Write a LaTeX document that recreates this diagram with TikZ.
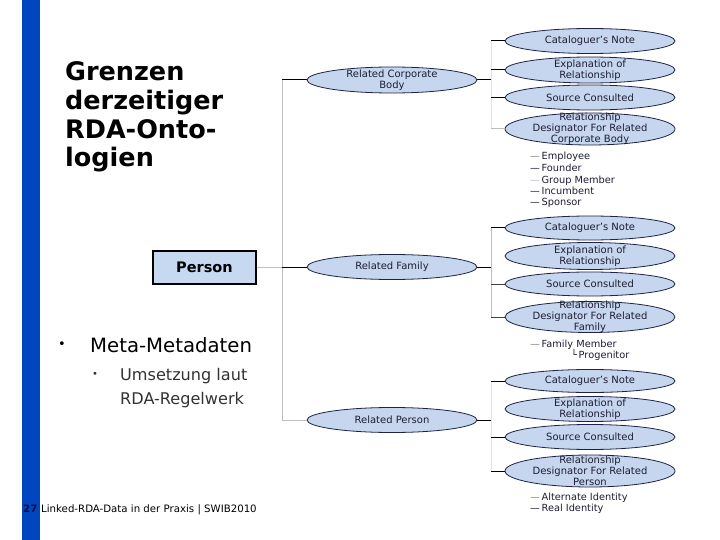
\documentclass[tikz,border=0pt]{standalone}
\usepackage{fontspec}
\setmainfont{DejaVu Sans}
\usetikzlibrary{shapes.geometric}
\definecolor{barblue}{RGB}{0,70,190}
\definecolor{ellfill}{RGB}{197,214,238}
\definecolor{elldraw}{RGB}{30,35,70}
\definecolor{boxfill}{RGB}{198,217,241}
\definecolor{linegray}{RGB}{190,190,190}
\definecolor{faintgray}{RGB}{228,228,228}
\definecolor{txtdark}{RGB}{30,30,50}
\definecolor{navy}{RGB}{10,10,70}
\definecolor{subgray}{RGB}{50,50,50}
\begin{document}
\begin{tikzpicture}[x=1pt,y=-1pt,
  ell/.style={ellipse, draw=elldraw, line width=0.8pt, fill=ellfill, minimum width=170pt, inner sep=0pt},
  lbl/.style={align=center, text=txtdark, inner sep=0pt, font=\fontsize{10}{11}\selectfont},
  itm/.style={anchor=west, text=txtdark, inner sep=0pt, text height=7pt, text depth=2pt, font=\fontsize{9.8}{11}\selectfont},
  conn/.style={line width=1pt, black},
  gconn/.style={line width=1pt, linegray},
  fconn/.style={line width=0.8pt, faintgray},
  ttl/.style={anchor=base west, inner sep=0pt, font=\fontsize{25.5}{29}\selectfont\bfseries}
]
\useasboundingbox (0,0) rectangle (720,540);
\fill[white] (0,0) rectangle (720,540);
% blue bar
\fill[barblue] (22,0) rectangle (40,540);

% title
\node[ttl] (t1) at (65,81) {Grenzen};
\node[ttl] (t2) at (65,110) {derzeitiger};
\node[ttl] (t3) at (65,138.5) {RDA-Onto-};
\node[ttl] (t4) at (65,167) {logien};

% Person box
\node[draw=black, line width=2.5pt, fill=boxfill, minimum width=103pt, minimum height=33pt, inner sep=0pt,
      font=\fontsize{14.5}{16}\selectfont\bfseries] (person) at (204.5,267.5) {Person};

% bullets
\node[inner sep=0pt, font=\fontsize{13}{14}\selectfont] (b1) at (62,345) {•};
\node[anchor=base west, inner sep=0pt, font=\fontsize{19.7}{22}\selectfont] (m1) at (90,352) {Meta-Metadaten};
\node[inner sep=0pt, text=subgray, font=\fontsize{10}{12}\selectfont] (b2) at (95,375) {•};
\node[anchor=base west, inner sep=0pt, text=subgray, font=\fontsize{16.1}{18}\selectfont] (u1) at (120,380) {Umsetzung laut};
\node[anchor=base west, inner sep=0pt, text=subgray, font=\fontsize{16.1}{18}\selectfont] (u2) at (120,404) {RDA-Regelwerk};

% footer
\node[anchor=base west, inner sep=0pt, text=navy, font=\fontsize{10.2}{12}\selectfont\bfseries] (pg) at (23,512) {27};
\node[anchor=base west, inner sep=0pt, text=black, font=\fontsize{10.2}{12}\selectfont] (ft) at (41,512) {Linked-RDA-Data in der Praxis | SWIB2010};

% main ellipses
\node[ell, minimum height=26pt] (rcb) at (392,80) {};
\node[lbl] (rcbt) at (rcb.center) {Related Corporate\\Body};
\node[ell, minimum height=25pt] (rf) at (392,267) {};
\node[lbl] (rft) at (rf.center) {Related Family};
\node[ell, minimum height=25pt] (rp) at (392,420) {};
\node[lbl] (rpt) at (rp.center) {Related Person};

% group 1
\node[ell, minimum height=25pt] (a1) at (590,41) {};
\node[lbl] (a1t) at (a1.center) {Cataloguer's Note};
\node[ell, minimum height=26pt] (a2) at (590,70) {};
\node[lbl] (a2t) at (a2.center) {Explanation of\\Relationship};
\node[ell, minimum height=25pt] (a3) at (590,97.5) {};
\node[lbl] (a3t) at (a3.center) {Source Consulted};
\node[ell, minimum height=32pt] (a4) at (590,129) {};
\node[lbl] (a4t) at (a4.center) {Relationship\\Designator For Related\\Corporate Body};

% group 2
\node[ell, minimum height=24pt] (c1) at (590,228) {};
\node[lbl] (c1t) at (c1.center) {Cataloguer's Note};
\node[ell, minimum height=27pt] (c2) at (590,256) {};
\node[lbl] (c2t) at (c2.center) {Explanation of\\Relationship};
\node[ell, minimum height=24pt] (c3) at (590,284) {};
\node[lbl] (c3t) at (c3.center) {Source Consulted};
\node[ell, minimum height=31pt] (c4) at (590,317) {};
\node[lbl] (c4t) at (c4.center) {Relationship\\Designator For Related\\Family};

% group 3
\node[ell, minimum height=23pt] (d1) at (590,381) {};
\node[lbl] (d1t) at (d1.center) {Cataloguer's Note};
\node[ell, minimum height=25pt] (d2) at (590,409) {};
\node[lbl] (d2t) at (d2.center) {Explanation of\\Relationship};
\node[ell, minimum height=25pt] (d3) at (590,437) {};
\node[lbl] (d3t) at (d3.center) {Source Consulted};
\node[ell, minimum height=32pt] (d4) at (590,471) {};
\node[lbl] (d4t) at (d4.center) {Relationship\\Designator For Related\\Person};

% lists
\node[itm] (e1) at (530,157) {{\color{gray}—}\,Employee};
\node[itm] (e2) at (530,169) {—\,Founder};
\node[itm] (e3) at (530,181) {{\color{linegray}—}\,Group Member};
\node[itm] (e4) at (530,192) {—\,Incumbent};
\node[itm] (e5) at (530,203) {—\,Sponsor};
\node[itm] (f1) at (530,345) {{\color{gray}—}\,Family Member};
\node[itm] (f2) at (571,356) {└\,Progenitor};
\node[itm] (g1) at (530,498) {{\color{gray}—}\,Alternate Identity};
\node[itm] (g2) at (530,509) {—\,Real Identity};

% trunk
\coordinate (j0) at (282,267.5);
\coordinate (jt) at (282,80);
\coordinate (jb) at (282,420);
\draw[gconn] (person.east) -- (j0);
\draw[gconn] (jt) -- (jb);
\draw[conn] (jt) -- (rcb.west);
\draw[conn] (j0 |- rf.west) -- (rf.west);
\draw[gconn] (jb) -- (rp.west);

% group 1 connectors
\coordinate (k1) at (491,80);
\draw[conn] (rcb.east) -- (k1);
\draw[fconn] (491,41) -- (491,129);
\draw[conn] (491,41) -- (a1.west);
\draw[conn] (491,70) -- (a2.west);
\draw[conn] (491,97.5) -- (a3.west);
\draw[gconn] (491,129) -- (a4.west);

% group 2 connectors
\coordinate (k2) at (491,267);
\draw[conn] (rf.east) -- (k2);
\draw[line width=0.8pt, linegray] (491,228) -- (491,317);
\draw[conn] (491,228) -- (c1.west);
\draw[line width=1pt, black!75] (491,284) -- (c3.west);
\draw[line width=1pt, black!75] (491,317) -- (c4.west);

% group 3 connectors
\coordinate (k3) at (491,420);
\draw[conn] (rp.east) -- (k3);
\draw[fconn] (491,381) -- (491,471);
\draw[conn] (491,381) -- (d1.west);
\draw[conn] (491,437) -- (d3.west);
\draw[conn] (491,471) -- (d4.west);
\end{tikzpicture}
\end{document}
